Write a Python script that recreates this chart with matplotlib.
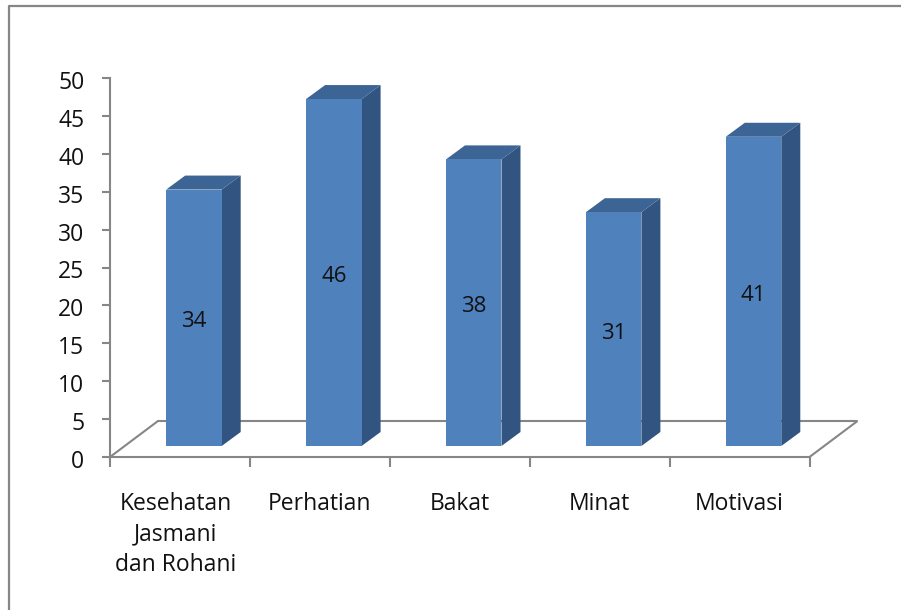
import matplotlib
matplotlib.use('Agg')
import matplotlib.pyplot as plt
from matplotlib.patches import Polygon
from matplotlib.lines import Line2D
from matplotlib.transforms import ScaledTranslation

plt.rcParams['font.family'] = ['Open Sans', 'DejaVu Sans']

categories = ['Kesehatan\nJasmani\ndan Rohani', 'Perhatian', 'Bakat', 'Minat', 'Motivasi']
values = [34, 46, 38, 31, 41]
y_ticks = [0, 5, 10, 15, 20, 25, 30, 35, 40, 45, 50]

FRONT = '#4f81bd'
SIDE = '#325480'
TOP = '#3c6494'
AXIS = '#868686'
TEXT = '#111111'

W, H = 901, 610


def main():
    fig = plt.figure(figsize=(W / 100, H / 100), dpi=100)
    fig.add_artist(Line2D([8.5 / W, 8.5 / W, 1], [0, 1 - 6 / H, 1 - 6 / H],
                          color=AXIS, lw=1.6, transform=fig.transFigure))

    ax = fig.add_axes([110 / W, 1 - 457 / H, 699.5 / W, 379 / H])
    ax.set_xlim(0, 5)
    ax.set_ylim(0, 50)
    ax.patch.set_alpha(0)

    # sizes of the fake 3d depth, in data units
    px_x = 5 / 699.5
    px_y = 50 / 379
    floor_dx, floor_dy = 48 * px_x, 36 * px_y
    bar_dx, bar_dy = 19 * px_x, 14 * px_y
    base = 11 * px_y
    width = 55.5 * px_x
    shift = 0.1
    bar_scale = 0.995

    ax.plot([0, floor_dx, 5 + floor_dx, 5], [0, floor_dy, floor_dy, 0],
            color=AXIS, lw=1.5, clip_on=False, solid_joinstyle='miter')

    for i, v in enumerate(values):
        x0 = i + 0.5 + shift - width / 2
        x1 = x0 + width
        h = v * bar_scale
        top = base + h
        ax.add_patch(Polygon([(x1, base), (x1 + bar_dx, base + bar_dy),
                              (x1 + bar_dx, top + bar_dy), (x1, top)],
                             color=SIDE, lw=0, clip_on=False, zorder=3))
        ax.add_patch(Polygon([(x0, top), (x1, top), (x1 + bar_dx, top + bar_dy),
                              (x0 + bar_dx, top + bar_dy)],
                             color=TOP, lw=0, clip_on=False, zorder=3))
        ax.bar(x0, h, width=width, bottom=base, align='edge',
               color=FRONT, lw=0, clip_on=False, zorder=3)
        ax.annotate(str(v), ((x0 + x1) / 2, base + h / 2), xytext=(0, -3),
                    textcoords='offset points', ha='center', va='center',
                    fontsize=16, color=TEXT, zorder=4)

    for s in ['top', 'right']:
        ax.spines[s].set_visible(False)
    for s in ['left', 'bottom']:
        ax.spines[s].set_color(AXIS)
        ax.spines[s].set_linewidth(1.5)

    ax.set_yticks(y_ticks)
    ax.tick_params(axis='y', length=6, width=1.5, color=AXIS, labelsize=16.5,
                   labelcolor=TEXT, pad=12.5)
    ax.set_xticks(range(6))
    ax.tick_params(axis='x', which='major', length=7, width=1.5, color=AXIS,
                   labelbottom=False)
    ax.set_xticks([i + 0.5 for i in range(5)], minor=True)
    ax.set_xticklabels(categories, minor=True, linespacing=1.36)
    ax.tick_params(axis='x', which='minor', length=0, pad=25, labelsize=16.5,
                   labelcolor=TEXT)

    # nudge labels to where the original has them
    down = ScaledTranslation(0, -2 / 100, fig.dpi_scale_trans)
    for label in ax.get_yticklabels():
        label.set_transform(label.get_transform() + down)
    first = ax.get_xticklabels(minor=True)[0]
    first.set_transform(first.get_transform() + ScaledTranslation(-4 / 100, 0, fig.dpi_scale_trans))

    fig.savefig('out.png', dpi=100)


if __name__ == "__main__":
    main()
